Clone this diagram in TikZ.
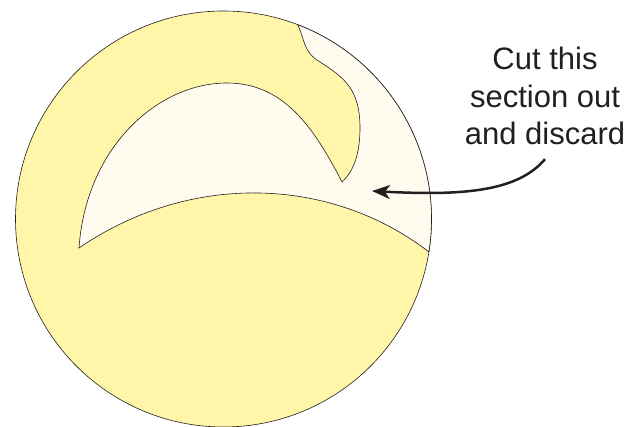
\documentclass[tikz,border=0pt]{standalone}
\usepackage{fontspec}
\setmainfont{Liberation Sans}
\usetikzlibrary{arrows.meta,calc}
\definecolor{lensyellow}{RGB}{255,246,170}
\definecolor{lenscream}{RGB}{255,252,239}
\definecolor{inkgray}{RGB}{35,31,32}
\tikzset{
  outline/.style={draw=inkgray, line width=0.6pt},
  pointer/.style={draw=inkgray, line width=2.5pt, -{Stealth[length=18pt, width=14pt, inset=5pt]}}
}
\begin{document}
\begin{tikzpicture}[x=1pt, y=1pt]
  \useasboundingbox (0,0) rectangle (642,427);
  \coordinate (c) at (223.5,208);
  \draw[outline, fill=lensyellow] (c) circle[radius=208];
  \coordinate (top) at ($(c)+(69.1:208)$);
  \coordinate (cusp) at (342,245);
  \coordinate (left) at (79,179);
  \coordinate (rim) at ($(c)+(-9.1:208)$);
  \draw[outline, fill=lenscream]
    (top) .. controls (305,387) and (303,375) .. (320,365)
          .. controls (345,349) and (360,337) .. (360,299)
          .. controls (360,267) and (350,252) .. (cusp)
          .. controls (315,297) and (285,344) .. (227,344)
          .. controls (158,344) and (86,280) .. (left)
          .. controls (190,255) and (330,251) .. (rim)
          arc[start angle=-9.1, end angle=69.1, radius=208] -- cycle;
  \node[anchor=north, inner sep=0pt, align=center, text=inkgray,
        font=\fontsize{31}{37.5}\selectfont] (note) at (545,380)
        {Cut this\\section out\\and discard};
  \coordinate (aim) at (372,236);
  \draw[pointer] ([yshift=-14pt]note.south) .. controls (518,236) and (465,231) .. (aim);
\end{tikzpicture}
\end{document}
